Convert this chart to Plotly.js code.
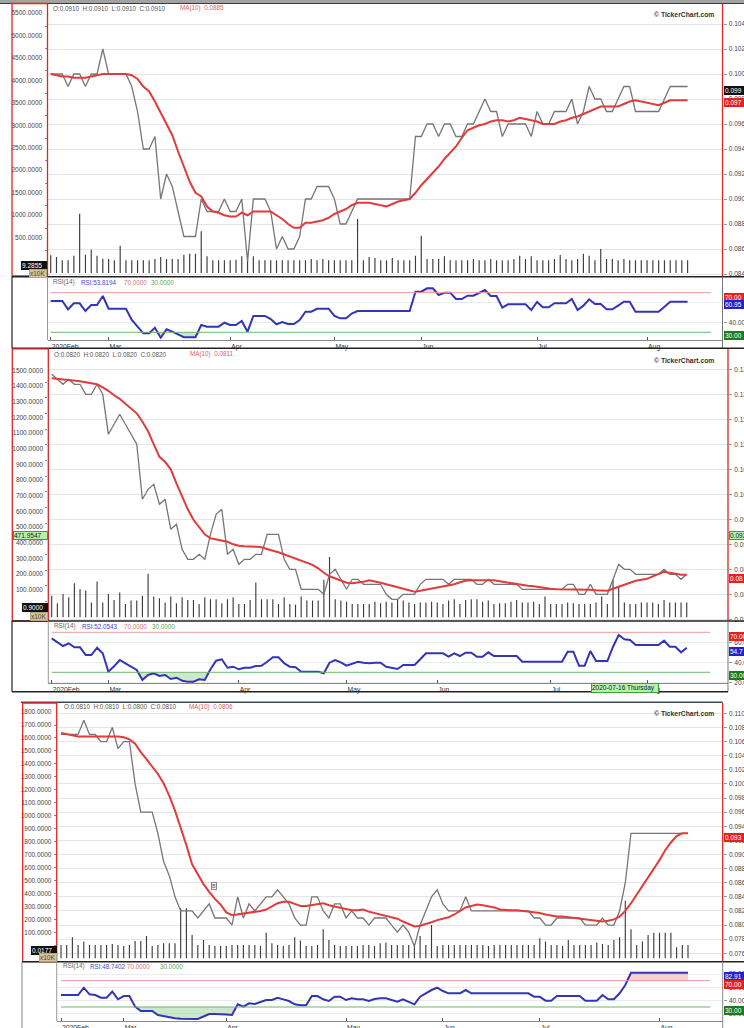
<!DOCTYPE html>
<html><head><meta charset="utf-8">
<script src="https://cdn.plot.ly/plotly-3.0.1.min.js"></script>
<style>html,body{margin:0;padding:0;background:#fff}#chart{width:744px;height:1028px}</style>
</head><body><div id="chart"></div><script>
// ---------------- DATA ----------------
const monthText = ['2020Feb','Mar','Apr','May','Jun','Jul','Aug'];
const p1MonthIdx = [0,10,31,49,64,84,103];
const p2MonthIdx = [0,10,33,52,68,88,105];
const p3MonthIdx = [0,11,29,50,67,84,105];
const rsiUpper = 70, rsiLower = 30;

// Panel 1
const p1Close = [
0.100,0.100,0.100,0.099,0.100,0.100,0.099,0.100,0.100,0.102,
0.100,0.100,0.100,0.100,0.099,0.097,0.094,0.094,0.095,0.090,
0.092,0.091,0.089,0.087,0.087,0.087,0.090,0.089,0.089,0.089,
0.090,0.089,0.089,0.090,0.085,0.090,0.090,0.090,0.089,0.086,
0.087,0.086,0.086,0.087,0.090,0.090,0.091,0.091,0.091,0.090,
0.088,0.088,0.089,0.090,0.090,0.090,0.090,0.090,0.090,0.090,
0.090,0.090,0.090,0.095,0.095,0.096,0.096,0.095,0.096,0.096,
0.095,0.095,0.096,0.096,0.097,0.098,0.097,0.097,0.095,0.096,
0.096,0.096,0.096,0.095,0.097,0.096,0.096,0.097,0.097,0.097,
0.098,0.096,0.097,0.099,0.098,0.098,0.097,0.097,0.098,0.099,
0.099,0.097,0.097,0.097,0.097,0.097,0.098,0.099,0.099,0.099,
0.099];
const p1MA = [
0.1000,0.0999,0.0998,0.0998,0.0997,0.0997,0.0997,0.0998,0.0999,0.1000,
0.1000,0.1000,0.1000,0.1000,0.0999,0.0996,0.0990,0.0986,0.0978,0.0969,
0.0960,0.0951,0.0938,0.0926,0.0914,0.0905,0.0902,0.0894,0.0890,0.0889,
0.0887,0.0886,0.0886,0.0889,0.0887,0.0890,0.0890,0.0890,0.0890,0.0887,
0.0884,0.0880,0.0877,0.0877,0.0881,0.0881,0.0882,0.0883,0.0885,0.0888,
0.0890,0.0892,0.0895,0.0897,0.0897,0.0897,0.0896,0.0895,0.0894,0.0896,
0.0898,0.0899,0.0900,0.0905,0.0911,0.0916,0.0921,0.0926,0.0932,0.0937,
0.0942,0.0949,0.0955,0.0957,0.0959,0.0960,0.0962,0.0963,0.0963,0.0962,
0.0963,0.0965,0.0964,0.0963,0.0962,0.0960,0.0960,0.0960,0.0962,0.0963,
0.0965,0.0966,0.0968,0.0970,0.0972,0.0974,0.0974,0.0974,0.0974,0.0976,
0.0978,0.0979,0.0978,0.0977,0.0976,0.0975,0.0977,0.0979,0.0979,0.0979,
0.0979];
const p1Vol = [
394,356,283,283,385,1321,408,519,385,318,
312,283,608,283,283,283,283,283,312,356,
312,312,312,408,430,430,929,372,283,283,
283,283,296,372,296,372,283,283,283,283,
283,283,283,283,283,312,283,312,283,283,
283,283,283,1203,283,356,334,283,283,334,
283,283,283,385,831,312,312,312,372,283,
283,283,283,312,283,283,312,283,283,283,
312,385,312,372,283,283,283,312,401,312,
283,312,430,385,283,534,312,312,283,312,
283,283,283,283,283,283,283,283,283,283,
283];
const p1RSI = [
61.6,61.6,61.6,53.2,59.3,59.3,51.5,57.6,57.6,66.7,
53.8,53.8,53.8,53.8,42.4,36,29,29,34.6,24.5,
33,30.6,27.8,25,25,25,37.4,35.7,35.7,35.7,
39.7,37.4,37.4,41.4,30.6,46.5,46.5,46.5,43.4,38.1,
40.4,38.4,38.4,42.4,50.8,50.8,53.8,53.8,53.8,46.5,
44.1,44.1,49,51.5,51.5,51.5,51.5,51.5,51.5,51.5,
51.5,51.5,51.5,71,71,74.4,74.4,67.7,70,70,
63.6,63.6,67,67,70,72.7,66.7,66.7,54.9,58.3,
58.3,58.3,58.3,52.5,60.6,55.2,55.2,59.3,59.3,59.3,
63.6,52.5,56.9,63.3,58.6,58.6,53.2,53.2,57,60.9,
60.9,50.8,50.8,50.8,50.8,50.8,55.8,60.9,60.9,60.9,
60.9];

// Panel 2
const p2Close = [
0.124,0.123,0.122,0.123,0.122,0.122,0.120,0.120,0.122,0.120,
0.112,0.114,0.116,0.114,0.112,0.110,0.099,0.101,0.102,0.098,
0.099,0.093,0.094,0.089,0.087,0.087,0.088,0.087,0.092,0.096,
0.097,0.088,0.089,0.086,0.087,0.087,0.088,0.088,0.092,0.092,
0.092,0.087,0.085,0.085,0.081,0.081,0.081,0.081,0.080,0.084,
0.085,0.083,0.081,0.083,0.083,0.082,0.082,0.082,0.082,0.080,
0.079,0.079,0.080,0.080,0.080,0.082,0.083,0.083,0.083,0.083,
0.082,0.083,0.083,0.083,0.083,0.082,0.082,0.083,0.082,0.082,
0.082,0.082,0.082,0.081,0.081,0.081,0.081,0.081,0.081,0.081,
0.081,0.082,0.082,0.080,0.080,0.082,0.080,0.080,0.080,0.083,
0.086,0.085,0.085,0.084,0.084,0.084,0.084,0.084,0.085,0.084,
0.084,0.083,0.084];
const p2MA = [
0.1232,0.1231,0.1230,0.1229,0.1227,0.1226,0.1224,0.1222,0.1220,0.1214,
0.1207,0.1198,0.1191,0.1181,0.1171,0.1162,0.1145,0.1126,0.1100,0.1075,
0.1065,0.1050,0.1022,0.0995,0.0970,0.0949,0.0935,0.0920,0.0912,0.0910,
0.0907,0.0905,0.0900,0.0897,0.0896,0.0896,0.0895,0.0894,0.0890,0.0887,
0.0884,0.0880,0.0876,0.0872,0.0868,0.0864,0.0859,0.0852,0.0843,0.0836,
0.0832,0.0828,0.0823,0.0822,0.0823,0.0825,0.0828,0.0826,0.0823,0.0820,
0.0817,0.0814,0.0811,0.0808,0.0805,0.0807,0.0809,0.0811,0.0813,0.0815,
0.0817,0.0820,0.0824,0.0827,0.0828,0.0828,0.0829,0.0829,0.0828,0.0826,
0.0824,0.0822,0.0821,0.0819,0.0817,0.0816,0.0814,0.0813,0.0811,0.0810,
0.0810,0.0810,0.0810,0.0810,0.0810,0.0809,0.0808,0.0807,0.0807,0.0811,
0.0815,0.0819,0.0823,0.0827,0.0829,0.0831,0.0836,0.0841,0.0845,0.0843,
0.0841,0.0839,0.0839];
const p2Vol = [
137,90,149,128,218,179,171,94,229,94,
149,111,158,85,107,107,137,278,133,122,
94,133,90,128,111,111,85,128,115,115,
90,115,128,85,85,111,222,115,115,115,
85,128,85,81,133,107,107,107,239,385,
115,107,100,85,85,85,85,
100,90,100,94,115,107,94,85,94,94,
100,94,85,107,115,85,111,115,115,100,
107,85,90,90,100,111,94,94,100,85,
133,85,85,85,94,90,85,85,85,94,
133,85,239,201,94,85,85,94,94,94,
85,111,94,94,94,94];
const p2RSI = [
64,60,56.3,59,55,55,47.3,47.3,54.6,49,
30.6,36,42.3,39,35.5,32.3,22.3,27.3,29,26.3,
27.3,23.3,24.6,21.6,20.6,20.6,23,22.3,33,41.6,
43,34.6,35.6,33,34.6,34.6,36.3,36.6,40.6,45,
45,39,35.6,35,30.6,30.6,30.6,30.6,29,39.6,
42.3,40,36.6,39,40.6,39.6,39,39.6,39.6,35.6,
34.6,33.3,37.3,37.3,37.3,43,49,49,49,49,
45.6,49,46.3,49.6,49.6,45.6,45.6,50,46.3,46.3,
46.3,46.3,46.3,40.6,40.6,40.6,40.6,40.6,40.6,40.6,
40.6,50.6,50.6,36.6,36.6,51.3,41.3,41.3,41.3,55.6,
67.3,63,62.3,57.3,57.3,57.3,57.3,57.3,61.6,55.6,
55.6,50,54.6];

// Panel 3
const p3Close = [
0.107,0.107,0.107,0.107,0.109,0.107,0.107,0.106,0.106,0.108,
0.105,0.106,0.106,0.100,0.096,0.096,0.096,0.093,0.089,0.087,
0.084,0.082,0.082,0.082,0.081,0.082,0.083,0.081,0.081,0.081,
0.080,0.084,0.081,0.083,0.082,0.083,0.084,0.084,0.085,0.084,
0.083,0.081,0.080,0.080,0.084,0.084,0.082,0.081,0.083,0.083,
0.081,0.082,0.081,0.081,0.080,0.081,0.081,0.081,0.080,0.079,
0.080,0.079,0.077,0.080,0.082,0.084,0.085,0.083,0.082,0.082,
0.082,0.084,0.082,0.082,0.082,0.082,0.082,0.082,0.082,0.082,
0.082,0.082,0.082,0.081,0.081,0.080,0.080,0.081,0.081,0.081,
0.081,0.081,0.080,0.080,0.080,0.081,0.080,0.080,0.082,0.086,
0.093,0.093,0.093,0.093,0.093,0.093,0.093,0.093,0.093,0.093,
0.093];
const p3MA = [
0.1072,0.1070,0.1068,0.1067,0.1067,0.1067,0.1067,0.1067,0.1068,0.1068,
0.1067,0.1066,0.1063,0.1057,0.1045,0.1035,0.1025,0.1014,0.1001,0.0983,
0.0962,0.0938,0.0913,0.0886,0.0872,0.0858,0.0847,0.0837,0.0829,0.0818,
0.0814,0.0815,0.0817,0.0818,0.0819,0.0820,0.0822,0.0826,0.0831,0.0833,
0.0833,0.0830,0.0827,0.0827,0.0828,0.0830,0.0831,0.0828,0.0826,0.0825,
0.0823,0.0821,0.0821,0.0822,0.0819,0.0817,0.0815,0.0814,0.0812,0.0809,
0.0805,0.0801,0.0798,0.0799,0.0801,0.0804,0.0807,0.0809,0.0811,0.0815,
0.0820,0.0825,0.0827,0.0829,0.0828,0.0827,0.0825,0.0822,0.0821,0.0821,
0.0821,0.0820,0.0820,0.0819,0.0817,0.0815,0.0813,0.0812,0.0812,0.0811,
0.0810,0.0808,0.0807,0.0806,0.0805,0.0805,0.0806,0.0808,0.0812,0.0820,
0.0831,0.0843,0.0855,0.0868,0.0880,0.0892,0.0906,0.0917,0.0926,0.0930,
0.0930];
const p3Vol = [
103,103,162,103,129,103,103,103,103,110,
103,95,103,134,134,172,95,103,116,116,
116,386,386,180,103,141,103,95,95,95,
103,103,103,103,103,95,198,116,103,95,
103,162,137,95,95,103,224,141,103,95,
95,95,95,103,103,
95,116,121,103,103,103,103,103,172,103,
257,95,103,103,103,103,103,103,103,103,
95,103,103,103,103,103,103,103,103,154,
129,103,103,95,141,103,103,103,103,121,
110,103,141,162,445,224,103,129,180,198,
198,198,198,85,103,103];
const p3RSI = [
48.2,48.2,48.2,48.2,59.3,49.3,48.2,44.1,44.1,53.3,
41.7,46.7,46.7,30.5,23.9,23.9,23.9,17.8,16,14,
13,12,11.8,11.8,11.8,15.6,19.4,19.4,19.4,18.6,
17.8,34.1,30.5,35.6,34.6,37.6,40.6,40.6,44.1,41.6,
39.1,34.1,32.6,32.6,46.7,46.7,41.7,39.1,45.7,45.7,
40.6,43.2,41.7,41.7,39.1,42,43.2,43.2,40.6,38.1,
41.7,38,34.1,45.7,50.8,55.8,59.3,54.3,50.8,50.8,
50.8,55.8,50.8,50.8,50.8,50.8,50.8,50.8,50.8,50.8,
50.8,50.8,50.8,45.7,45.7,39.6,39.6,46.7,46.7,46.7,
46.7,46.7,39.6,39.6,39.6,48.2,41.7,41.7,50.8,63.4,
82.1,82.1,82.1,82.1,82.1,82.1,82.1,82.1,82.1,82.1,
82.1];

const p1Head = {ohlc:'O:0.0910  H:0.0910  L:0.0910  C:0.0910', ma:'MA(10)  0.0885', rsi:'RSI:53.8194'};
const p2Head = {ohlc:'O:0.0820  H:0.0820  L:0.0820  C:0.0820', ma:'MA(10)  0.0811', rsi:'RSI:52.0543'};
const p3Head = {ohlc:'O:0.0810  H:0.0810  L:0.0800  C:0.0810', ma:'MA(10)  0.0806', rsi:'RSI:48.7402'};

// ---------------- LAYOUT GEOMETRY ----------------
const W=744,H=1028;
const fx=p=>p/W, fy=p=>1-p/H;
const RED='#e02525';
const FONT='Liberation Sans, Arial, sans-serif';

const panels = [
 {close:p1Close, ma:p1MA, vol:p1Vol, rsi:p1RSI, months:p1MonthIdx, head:p1Head,
  l:47.5, r:722.5, x0:50.7, step:5.79, pt:4, pb:276, rt:277.5, rb:340,
  pRef:0.096, pRefPx:124, pPPU:12500, pDt:0.002,
  vBase:273, vPPU:0.0449, vShift:13, vDt:500, vMax:5500,
  rRefPx:332.3, rPPU:0.99, rTicks:[40,60], rsiEnd:711,
  headY:8.3, maX:178, rsiHeadY:282.3, rsiX:[50.7,78.7,121.7,149.3], copyY:15},
 {close:p2Close, ma:p2MA, vol:p2Vol, rsi:p2RSI, months:p2MonthIdx, head:p2Head,
  l:48.3, r:728, x0:51.7, step:5.67, pt:349.5, pb:621, rt:622, rb:683.3,
  pRef:0.080, pRefPx:594.3, pPPU:5000, pDt:0.005,
  vBase:617.3, vPPU:0.1567, vShift:12, vDt:100, vMax:1500,
  rRefPx:672.3, rPPU:1.0, rTicks:[20,40,60], rsiEnd:710.3,
  headY:354, maX:188.3, rsiHeadY:626, rsiX:[51.7,80,121.7,150], copyY:360},
 {close:p3Close, ma:p3MA, vol:p3Vol, rsi:p3RSI, months:p3MonthIdx, head:p3Head,
  l:56.7, r:722.7, x0:61, step:5.7, pt:703.5, pb:961.7, rt:962.5, rb:1021,
  pRef:0.076, pRefPx:953.3, pPPU:7059, pDt:0.002,
  vBase:958.3, vPPU:0.1296, vShift:13, vDt:100, vMax:1800,
  rRefPx:1007, rPPU:0.658, rTicks:[20,40,60,80], rsiEnd:710.3,
  headY:706.7, maX:186.7, rsiHeadY:966, rsiX:[61,88.3,125,158.3], copyY:713.3}
];

const traces=[]; const layout={
  width:W, height:H, margin:{l:0,r:0,t:0,b:0}, paper_bgcolor:'#fff', plot_bgcolor:'rgba(0,0,0,0)',
  showlegend:false, font:{family:FONT,size:7,color:'#444'}, shapes:[], annotations:[]
};
const axId=(p,n)=> n===1? p : p+n;
const axKey=(p,n)=> n===1? p+'axis' : p+'axis'+n;

panels.forEach((g,i)=>{
  const xa=i*2+1, xr=i*2+2, yv=i*3+1, yp=i*3+2, yr=i*3+3;
  const px=axId('x',xa), vy=axId('y',yv), py=axId('y',yp), rx=axId('x',xr), ry=axId('y',yr);
  const idx=g.close.map((_,k)=>k);
  const xrange=[(g.l-g.x0)/g.step,(g.r-g.x0)/g.step];
  traces.push({type:'bar', x:idx, y:g.vol, xaxis:px, yaxis:vy, marker:{color:'#3c3c3c'}, width:0.2, hoverinfo:'skip'});
  traces.push({type:'scatter', mode:'lines', x:idx, y:g.close, xaxis:px, yaxis:py, line:{color:'#767676', width:1.3}, hoverinfo:'skip'});
  traces.push({type:'scatter', mode:'lines', x:idx, y:g.ma, xaxis:px, yaxis:py, line:{color:'#e23b3b', width:2}, hoverinfo:'skip'});
  traces.push({type:'scatter', mode:'lines', x:idx, y:idx.map(()=>rsiLower), xaxis:rx, yaxis:ry, line:{width:0}, hoverinfo:'skip'});
  traces.push({type:'scatter', mode:'lines', x:idx, y:g.rsi.map(v=>Math.min(v,rsiLower)), xaxis:rx, yaxis:ry,
    line:{width:0}, fill:'tonexty', fillcolor:'rgba(140,205,140,0.45)', hoverinfo:'skip'});
  traces.push({type:'scatter', mode:'lines', x:idx, y:idx.map(()=>rsiUpper), xaxis:rx, yaxis:ry, line:{width:0}, hoverinfo:'skip'});
  traces.push({type:'scatter', mode:'lines', x:idx, y:g.rsi.map(v=>Math.max(v,rsiUpper)), xaxis:rx, yaxis:ry,
    line:{width:0}, fill:'tonexty', fillcolor:'rgba(240,170,170,0.55)', hoverinfo:'skip'});
  traces.push({type:'scatter', mode:'lines', x:idx, y:g.rsi, xaxis:rx, yaxis:ry, line:{color:'#3434b8', width:2}, hoverinfo:'skip'});

  const volTicks=[]; for(let v=g.vDt; v<=g.vMax; v+=g.vDt) volTicks.push(v);
  const tf={family:FONT,size:6.5,color:'#444'};
  layout[axKey('x',xa)]={domain:[fx(g.l),fx(g.r)], range:xrange, anchor:vy,
    showticklabels:false, ticks:'', showgrid:false, zeroline:false, showline:false, fixedrange:true};
  layout[axKey('y',yv)]={domain:[fy(g.pb),fy(g.pt)], anchor:px, side:'left',
    range:[-(g.pb-g.vBase)/g.vPPU,(g.vBase-g.pt)/g.vPPU], tickvals:volTicks, tickformat:'.4f',
    showgrid:false, zeroline:false, ticks:'outside', ticklen:2, tickcolor:'#888', tickfont:tf,
    ticklabelshift:-g.vShift, ticklabelstandoff:1, fixedrange:true};
  layout[axKey('y',yp)]={overlaying:vy, side:'right', anchor:px,
    range:[g.pRef-(g.pb-g.pRefPx)/g.pPPU, g.pRef+(g.pRefPx-g.pt)/g.pPPU], tick0:0, dtick:g.pDt, tickformat:'.3f',
    showgrid:true, gridcolor:'#e6e6e6', zeroline:false, ticks:'outside', ticklen:3, tickcolor:'#999',
    tickfont:tf, ticklabelstandoff:1, fixedrange:true};
  layout[axKey('x',xr)]={domain:[fx(g.l),fx(g.r)], range:xrange, anchor:ry,
    tickvals:g.months, ticktext:monthText, ticklabelposition:'outside right', ticks:'inside', ticklen:3,
    tickcolor:'#555', showline:true, linecolor:'#8a8a8a', linewidth:1, showgrid:false, zeroline:false,
    tickfont:{family:FONT,size:6.8,color:'#333'}, fixedrange:true};
  layout[axKey('y',yr)]={domain:[fy(g.rb),fy(g.rt)], anchor:rx, side:'right',
    range:[rsiLower-(g.rb-g.rRefPx)/g.rPPU, rsiLower+(g.rRefPx-g.rt)/g.rPPU], tickvals:g.rTicks, tickformat:'.4f',
    showgrid:true, gridcolor:'#ebebeb', zeroline:false, ticks:'outside', ticklen:3, tickcolor:'#999',
    tickfont:tf, ticklabelstandoff:1, fixedrange:true};

  layout.shapes.push({type:'line', xref:'paper', yref:ry, x0:fx(g.x0), x1:fx(g.rsiEnd), y0:rsiUpper, y1:rsiUpper, line:{color:'#e99a9a',width:1}});
  layout.shapes.push({type:'line', xref:'paper', yref:ry, x0:fx(g.x0), x1:fx(g.rsiEnd), y0:rsiLower, y1:rsiLower, line:{color:'#6cb86c',width:1}});

  const A=(t,x,y,c,o)=>layout.annotations.push(Object.assign({text:t, xref:'paper', yref:'paper', x:fx(x), y:fy(y),
     xanchor:'left', yanchor:'middle', showarrow:false, font:{family:FONT,size:6.3,color:c}},o||{}));
  A(g.head.ohlc, g.rsiX[0]+0.5, g.headY, '#555');
  A(g.head.ma, g.maX, g.headY, '#e06060');
  A('RSI(14)', g.rsiX[0], g.rsiHeadY, '#666');
  A(g.head.rsi, g.rsiX[1], g.rsiHeadY, '#4848c8');
  A('70.0000', g.rsiX[2], g.rsiHeadY, '#e07070');
  A('30.0000', g.rsiX[3], g.rsiHeadY, '#5aa85a');
  A('<b>© TickerChart.com</b>', 715.5, g.copyY, '#333', {xanchor:'right', font:{family:FONT,size:6.8,color:'#333'}});
});

// ---------------- FRAMES ----------------
const S=layout.shapes;
const L=(x0,y0,x1,y1,c,w)=>S.push({type:'line',xref:'paper',yref:'paper',x0:fx(x0),y0:fy(y0),x1:fx(x1),y1:fy(y1),line:{color:c,width:w||1},layer:'above'});
const R=(x0,y0,x1,y1,c,w)=>S.push({type:'rect',xref:'paper',yref:'paper',x0:fx(x0),y0:fy(y0),x1:fx(x1),y1:fy(y1),line:{color:c,width:w||1},layer:'above'});
S.push({type:'rect',xref:'paper',yref:'paper',x0:0,x1:1,y0:fy(3),y1:1,line:{width:0},fillcolor:'#a2a2a2',layer:'above'});
L(0,3.5,744,3.5,'#3a3a3a',1.2);
R(12,3.5,47.5,276,RED,1.3); L(722.5,3.5,722.5,276,RED,1.3);
L(12,276.7,744,276.7,'#222',1.5); L(12,276.7,12,348.3,'#222',1.2);
L(47.5,276.7,47.5,340,'#999',1); L(722.5,276.7,722.5,348.3,'#777',1);
L(12,348.3,744,348.3,'#222',1.5);
R(12.3,348.8,48.3,621,RED,1.3); L(728,348.8,728,621,RED,1.3);
L(12,621,744,621,'#222',1.5); L(12,621,12,691.7,'#222',1.2);
L(48.3,621,48.3,683.3,'#999',1); L(728,621,728,691.7,'#777',1);
L(12,691.7,728,691.7,'#222',1.5);
L(20.7,702.3,722.7,702.3,'#3b4b5b',1.5);
R(22.7,703,56.7,961.7,RED,1.3); L(722.7,703,722.7,961.7,RED,1.3);
L(22,961.7,744,961.7,'#222',1.5); L(22,961.7,22,1028,'#888',1);
L(56.7,961.7,56.7,1021,'#999',1); L(722.7,961.7,722.7,1028,'#888',1);

// ---------------- VALUE BOXES ----------------
const Bx=(t,x,y,anchor,bg,fg,bd,w)=>layout.annotations.push({text:t,xref:'paper',yref:'paper',x:fx(x),y:fy(y),
  xanchor:anchor,yanchor:'middle',showarrow:false,bgcolor:bg,bordercolor:bd,borderwidth:1,borderpad:0,
  width:w,align:'left',font:{family:FONT,size:6.5,color:fg}});
Bx('9.2855',47,266,'right','#111','#fff','#111',24);
Bx('x10K',47,273.3,'right','#d5c49c','#444','#b8a47a',16);
Bx('0.099',723.5,90.5,'left','#111','#fff','#111',22);
Bx('0.097',723.5,102.5,'left','#e52020','#fff','#e52020',22);
Bx('70.00',723.5,297,'left','#e52020','#fff','#e52020',22);
Bx('60.95',723.5,304.3,'left','#2222cc','#fff','#2222cc',22);
Bx('30.00',723.5,336,'left','#1d7a1d','#fff','#1d7a1d',22);
Bx('471.9547',48,535.3,'right','#b6f0aa','#123','#3aa03a',33);
Bx('0.9000',48,607.7,'right','#111','#fff','#111',24);
Bx('x10K',48,616,'right','#d5c49c','#444','#b8a47a',16);
Bx('0.092',729,535,'left','#b6f0aa','#123','#3aa03a',18);
Bx('0.08',729,578.5,'left','#e52020','#fff','#e52020',18);
Bx('70.00',729,636.7,'left','#e52020','#fff','#e52020',18);
Bx('54.7',729,651.7,'left','#2222cc','#fff','#2222cc',18);
Bx('30.00',729,675.7,'left','#1d7a1d','#fff','#1d7a1d',18);
Bx('2020-07-16 Thursday',591,688,'left','#b8f0b0','#123','#3aa03a',66);
Bx('0.0177',57,950,'right','#111','#fff','#111',24);
Bx('x10K',57,957.3,'right','#d5c49c','#444','#b8a47a',16);
Bx('0.093',724,837.5,'left','#e52020','#fff','#e52020',22);
Bx('82.91',724,976,'left','#2222cc','#fff','#2222cc',22);
Bx('70.00',724,984,'left','#e52020','#fff','#e52020',22);
Bx('30.00',724,1010.7,'left','#1d7a1d','#fff','#1d7a1d',22);
layout.annotations.push({text:'B',xref:'paper',yref:'paper',x:fx(214.3),y:fy(885.7),xanchor:'center',yanchor:'middle',
  showarrow:false,bgcolor:'#f4f4f4',bordercolor:'#888',borderwidth:1,borderpad:0,font:{family:FONT,size:5.5,color:'#555'}});

Plotly.newPlot('chart', traces, layout, {staticPlot:true, displayModeBar:false});
</script></body></html>
